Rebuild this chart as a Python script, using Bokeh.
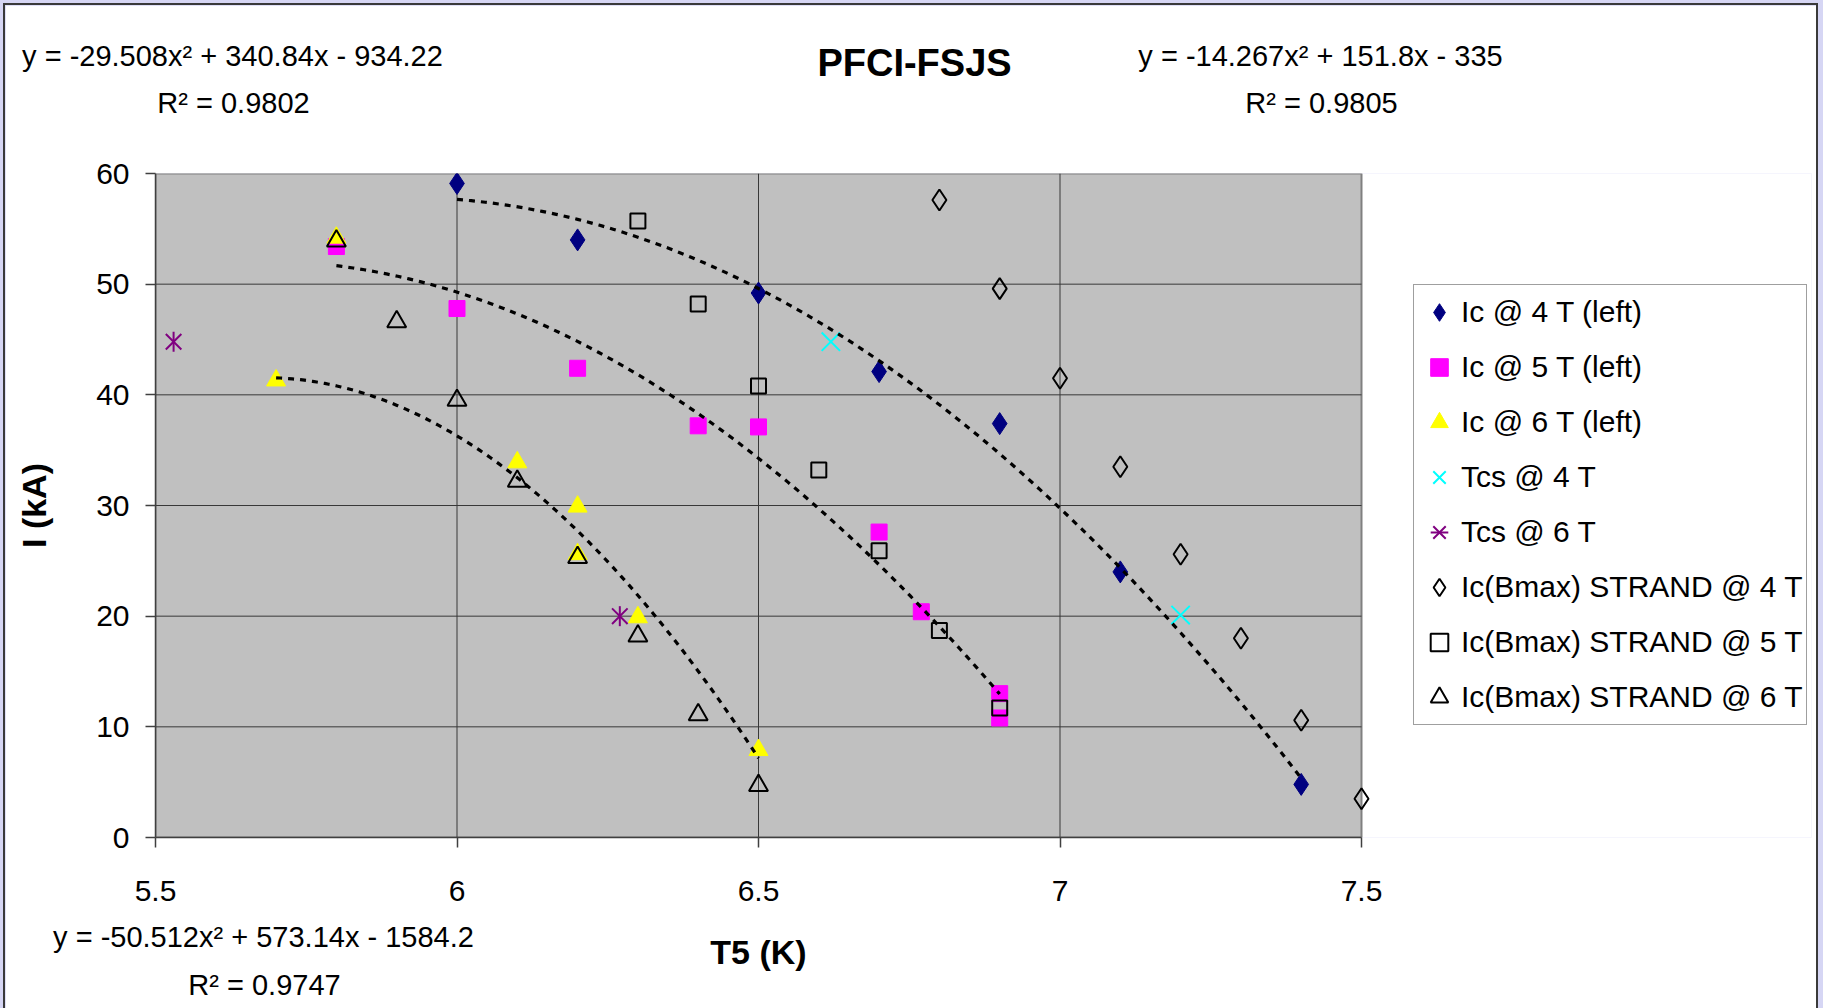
import numpy as np
from bokeh.plotting import figure
from bokeh.models import Range1d, FixedTicker, Legend, LegendItem, LinearAxis
from bokeh.layouts import column
from bokeh.embed import file_html
from bokeh.resources import INLINE

FONT = "Liberation Sans"

# ---------------- data ----------------
x_ticks = [5.5, 6.0, 6.5, 7.0, 7.5]
x_tick_labels = ["5.5", "6", "6.5", "7", "7.5"]
y_ticks = [0, 10, 20, 30, 40, 50, 60]
y_tick_labels = ["0", "10", "20", "30", "40", "50", "60"]

ic4_x = [6.0, 6.2, 6.5, 6.7, 6.9, 7.1, 7.4]
ic4_y = [59.1, 54.0, 49.2, 42.1, 37.4, 24.0, 4.8]

ic5_x = [5.8, 6.0, 6.2, 6.4, 6.5, 6.7, 6.77, 6.9, 6.9]
ic5_y = [53.4, 47.8, 42.4, 37.2, 37.1, 27.6, 20.4, 13.0, 10.8]

ic6_x = [5.7, 6.1, 6.2, 6.2, 6.3, 6.5]
ic6_y = [41.3, 33.9, 29.9, 25.6, 19.9, 7.9]
ic6_extra_x = [5.8]
ic6_extra_y = [54.2]

tcs4_x = [6.62, 7.2]
tcs4_y = [44.8, 20.1]

tcs6_x = [5.53, 6.27]
tcs6_y = [44.8, 20.0]

s4_x = [6.8, 6.9, 7.0, 7.1, 7.2, 7.3, 7.4, 7.5]
s4_y = [57.6, 49.6, 41.5, 33.5, 25.6, 18.0, 10.6, 3.5]

s5_x = [6.3, 6.4, 6.5, 6.6, 6.7, 6.8, 6.9]
s5_y = [55.7, 48.2, 40.8, 33.2, 25.9, 18.7, 11.7]

s6_x = [5.8, 5.9, 6.0, 6.1, 6.2, 6.3, 6.4, 6.5]
s6_y = [53.9, 46.6, 39.5, 32.2, 25.3, 18.2, 11.1, 4.7]

legend_labels = ["Ic @ 4 T (left)", "Ic @ 5 T (left)", "Ic @ 6 T (left)",
                 "Tcs @ 4 T", "Tcs @ 6 T",
                 "Ic(Bmax) STRAND @ 4 T", "Ic(Bmax) STRAND @ 5 T",
                 "Ic(Bmax) STRAND @ 6 T"]

title_text = "PFCI-FSJS"
x_title = "T5 (K)"
y_title = "I (kA)"
eq_top_left = ["y = -29.508x\u00b2 + 340.84x - 934.22", "R\u00b2 = 0.9802"]
eq_top_right = ["y = -14.267x\u00b2 + 151.8x - 335", "R\u00b2 = 0.9805"]
eq_bottom_left = ["y = -50.512x\u00b2 + 573.14x - 1584.2", "R\u00b2 = 0.9747"]

# ---------------- layout geometry (page pixels) ----------------
# the plotting area (5.5..7.5 x 0..60) sits at page x 155..1361, y 173..837;
# the canvas frame is widened to the right so that the legend is inside it.
PX0, PX1, PY0, PY1 = 155, 1361, 173, 837
FRAME_RIGHT = 1811
XSCALE = (x_ticks[-1] - x_ticks[0]) / (PX1 - PX0)


def dx(X):
    return x_ticks[0] + (X - PX0) * XSCALE


p = figure(width=1811, height=1003,
           x_range=Range1d(x_ticks[0], dx(FRAME_RIGHT)),
           y_range=Range1d(y_ticks[0], y_ticks[-1]),
           output_backend="svg", toolbar_location=None,
           min_border_left=150, min_border_right=1811 - 150 - (FRAME_RIGHT - PX0),
           min_border_top=168, min_border_bottom=171,
           background_fill_color="white", border_fill_color="white",
           outline_line_color=None)
p.title_location = None
p.xgrid.visible = False
p.ygrid.visible = False

# plot-area background and its grey border
p.quad(left=[x_ticks[0]], right=[x_ticks[-1]], bottom=[y_ticks[0]], top=[y_ticks[-1]],
       fill_color="#c0c0c0", line_color="#808080", line_width=2)
# grid lines
nx = len(x_ticks) - 2
ny = len(y_ticks) - 2
p.segment(x0=x_ticks[1:-1], y0=[y_ticks[0]] * nx, x1=x_ticks[1:-1],
          y1=[y_ticks[-1]] * nx, line_color="#383838", line_width=1)
p.segment(x0=[x_ticks[0]] * ny, y0=y_ticks[1:-1], x1=[x_ticks[-1]] * ny,
          y1=y_ticks[1:-1], line_color="#383838", line_width=1)

# axes
p.xaxis.ticker = FixedTicker(ticks=x_ticks)
p.yaxis.ticker = FixedTicker(ticks=y_ticks)
p.xaxis.bounds = (x_ticks[0], x_ticks[-1])
p.xaxis.major_label_overrides = {t: l for t, l in zip(x_ticks, x_tick_labels)}
p.yaxis.major_label_overrides = {t: l for t, l in zip(y_ticks, y_tick_labels)}
for ax in (p.xaxis[0], p.yaxis[0]):
    ax.axis_line_color = "#404040"
    ax.axis_line_width = 1.5
    ax.major_tick_line_color = "#404040"
    ax.major_tick_line_width = 1.5
    ax.major_tick_in = 0
    ax.major_tick_out = 10
    ax.minor_tick_line_color = None
    ax.major_label_text_font = FONT
    ax.major_label_text_font_size = "30px"
    ax.major_label_text_color = "black"
    ax.axis_label_text_font = FONT
    ax.axis_label_text_font_size = "34px"
    ax.axis_label_text_font_style = "bold"
    ax.axis_label_text_color = "black"
p.yaxis.axis_label = y_title
p.xaxis.major_label_standoff = 33
p.yaxis.major_label_standoff = 16
p.yaxis.axis_label_standoff = 40
p.yaxis.major_label_orientation = "horizontal"

# filled markers first, open markers on top
r_ic4 = p.scatter(ic4_x, ic4_y, marker="diamond", size=22, fill_color="#000080",
                  line_color="#000080")
r_ic5 = p.scatter(ic5_x, ic5_y, marker="square", size=16, fill_color="#ff00ff",
                  line_color="#ff00ff")
r_ic6 = p.scatter(ic6_x, ic6_y, marker="triangle", size=19, fill_color="#ffff00",
                  line_color="#ffff00")
p.scatter(ic6_extra_x, ic6_extra_y, marker="triangle", size=19, fill_color="#ffff00",
          line_color="#ffff00")
r_s4 = p.scatter(s4_x, s4_y, marker="diamond", size=21, fill_color=None,
                 line_color="black", line_width=2)
r_s5 = p.scatter(s5_x, s5_y, marker="square", size=15, fill_color=None,
                 line_color="black", line_width=2)
r_s6 = p.scatter(s6_x, s6_y, marker="triangle", size=19, fill_color=None,
                 line_color="black", line_width=2)
r_tcs4 = p.scatter(tcs4_x, tcs4_y, marker="x", size=26, line_color="#00ffff",
                   line_width=2)
r_tcs6a = p.scatter(tcs6_x, tcs6_y, marker="x", size=22, line_color="#800080",
                    line_width=2)
r_tcs6b = p.scatter(tcs6_x, tcs6_y, marker="dash", angle=np.pi / 2, size=20,
                    line_color="#800080", line_width=2)

# trend lines (2nd order polynomial fits of the Ic series, like Excel trendlines)
for sx, sy in ((ic4_x, ic4_y), (ic5_x, ic5_y), (ic6_x, ic6_y)):
    coef = np.polyfit(sx, sy, 2)
    xs = np.linspace(min(sx), max(sx), 120)
    p.line(xs, np.polyval(coef, xs), line_color="black", line_width=3.2,
           line_dash="6 6")

legend_renderers = [[r_ic4], [r_ic5], [r_ic6], [r_tcs4], [r_tcs6a, r_tcs6b],
                    [r_s4], [r_s5], [r_s6]]
legend = Legend(items=[LegendItem(label=l, renderers=r)
                       for l, r in zip(legend_labels, legend_renderers)],
                location=(1413 - PX0, PY1 - 725))
legend.padding = 3
legend.spacing = 7
legend.glyph_width = 44
legend.glyph_height = 48
legend.label_height = 48
legend.label_standoff = 0
legend.label_text_font = FONT
legend.label_text_font_size = "30px"
legend.label_text_color = "black"
legend.border_line_color = "#404040"
legend.border_line_width = 1.5
legend.background_fill_color = "white"
legend.background_fill_alpha = 1
legend.margin = 0
p.add_layout(legend)


def text_axis(side, xs_page, texts, size, standoff, bold=False):
    ticks = [dx(X) for X in xs_page]
    ax = LinearAxis(ticker=FixedTicker(ticks=ticks),
                    major_label_overrides={t: s for t, s in zip(ticks, texts)})
    ax.axis_line_color = None
    ax.major_tick_line_color = None
    ax.major_tick_in = 0
    ax.major_tick_out = 0
    ax.minor_tick_line_color = None
    ax.minor_tick_in = 0
    ax.minor_tick_out = 0
    ax.major_label_standoff = standoff
    ax.major_label_text_font = FONT
    ax.major_label_text_font_size = f"{size}px"
    ax.major_label_text_font_style = "bold" if bold else "normal"
    ax.major_label_text_color = "black"
    p.add_layout(ax, side)
    return ax


# texts above the plot (stacked outward from the frame)
text_axis("above", [233, 1321], [eq_top_left[1], eq_top_right[1]], 29, 55)
text_axis("above", [232, 1320], [eq_top_left[0], eq_top_right[0]], 29, 12)
text_axis("above", [914], [title_text], 38, -47, bold=True)
# x-axis title, centred under the plotting area
text_axis("below", [(PX0 + PX1) / 2], [x_title], 34, 29, bold=True)
# texts below the x axis
text_axis("below", [263], [eq_bottom_left[0]], 29, -53)
text_axis("below", [264], [eq_bottom_left[1]], 29, -5)

p.styles = {"outline": "2px solid #3a3a3a"}
root = column(p, width=1823, height=1008,
              styles={"background-color": "#d6d6f4", "overflow": "hidden",
                      "padding": "5px 7px 0px 5px"})

open("out.html", "w").write(file_html(root, INLINE))
